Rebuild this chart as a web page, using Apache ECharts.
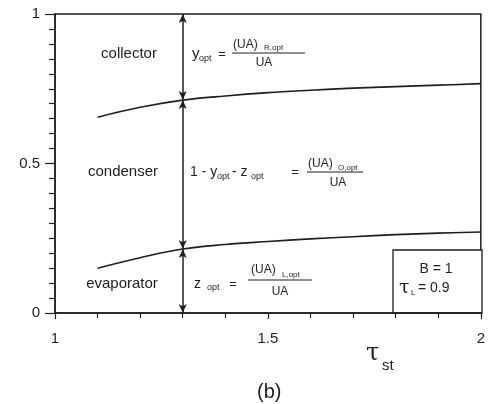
<!DOCTYPE html>
<html>
<head>
<meta charset="utf-8">
<script src="https://cdn.jsdelivr.net/npm/echarts@6/dist/echarts.min.js"></script>
<style>html,body{margin:0;padding:0;background:#fff}#c{width:488px;height:404px}</style>
</head>
<body>
<div id="c"></div>
<script>
// ---- data ----
var tauSt = [1.1, 1.2, 1.3, 1.4, 1.5, 1.6, 1.7, 1.8, 1.9, 2.0];
var upperCurve = [0.655, 0.688, 0.712, 0.726, 0.737, 0.745, 0.752, 0.757, 0.762, 0.767];
var lowerCurve = [0.150, 0.185, 0.214, 0.229, 0.239, 0.248, 0.255, 0.262, 0.267, 0.271];
var markerX = 1.3;
var markerIndex = 2;
var xTicks = [1, 1.5, 2];
var yTicks = [0, 0.5, 1];
var regionLabels = ['collector', 'condenser', 'evaporator'];

var FONT = '"Liberation Sans", Arial, sans-serif';
var GREEK = '"DejaVu Serif", "Liberation Serif", serif';
var INK = '#1e1e1e';

function pairs(xs, ys) { return xs.map(function (x, i) { return [x, ys[i]]; }); }

function txt(x, y, s, size, align, family) {
  return { type: 'text', silent: true, style: { text: s, x: x, y: y,
    font: size + 'px ' + (family || FONT), fill: INK,
    textAlign: align || 'left', textVerticalAlign: 'middle' } };
}
function hline(x1, x2, y, w) {
  return { type: 'line', silent: true, shape: { x1: x1, y1: y, x2: x2, y2: y },
    style: { stroke: INK, lineWidth: w || 1 } };
}

var chart = echarts.init(document.getElementById('c'), null, { renderer: 'canvas' });

var graphics = [
  // region labels
  txt(129, 54, regionLabels[0], 15, 'center'),
  txt(123, 172, regionLabels[1], 15, 'center'),
  txt(122, 284, regionLabels[2], 15, 'center'),
  // equation 1
  txt(192, 54, 'y', 15),
  txt(199, 59, 'opt', 9),
  txt(222, 54, '=', 13, 'center'),
  txt(233, 45, '(UA)', 12),
  txt(264, 48, 'R,opt', 8),
  hline(232, 305, 53, 1),
  txt(264, 63, 'UA', 12, 'center'),
  // equation 2
  txt(190, 172, '1 - y', 14),
  txt(217, 177, 'opt', 9),
  txt(232, 172, '- z', 14),
  txt(251, 177, 'opt', 9),
  txt(295, 172, '=', 13, 'center'),
  txt(308, 164, '(UA)', 12),
  txt(338, 168, 'O,opt', 8),
  hline(307, 363, 172, 1),
  txt(338, 183, 'UA', 12, 'center'),
  // equation 3
  txt(194, 284, 'z', 14),
  txt(207, 288, 'opt', 9),
  txt(233, 284, '=', 13, 'center'),
  txt(251, 270, '(UA)', 12),
  txt(282, 275, 'L,opt', 8),
  hline(248, 312, 280, 1),
  txt(280, 292, 'UA', 12, 'center'),
  // parameter box
  { type: 'rect', silent: true, shape: { x: 393, y: 250, width: 89, height: 63 },
    style: { fill: '#fff', stroke: INK, lineWidth: 1.3 } },
  txt(436, 269, 'B = 1', 14, 'center'),
  txt(399, 288, '\u03C4', 19, 'left', GREEK),
  txt(411, 293, 'L', 8),
  txt(418, 288, '= 0.9', 14),
  // axis title and caption
  txt(366, 354, '\u03C4', 24, 'left', GREEK),
  txt(382, 366, 'st', 15),
  txt(257, 392, '(b)', 20)
];

chart.setOption({
  animation: false,
  backgroundColor: '#fff',
  grid: { left: 55, right: 6, top: 14, bottom: 91, show: true, borderColor: INK, borderWidth: 1.5 },
  xAxis: {
    type: 'value', min: xTicks[0], max: xTicks[xTicks.length - 1], interval: 0.5,
    axisLine: { show: true, onZero: false, lineStyle: { color: INK, width: 1.5 } },
    axisTick: { show: true, length: 6, lineStyle: { color: INK, width: 1.2 } },
    minorTick: { show: true, splitNumber: 5, length: 5, lineStyle: { color: INK, width: 1.2 } },
    splitLine: { show: false },
    axisLabel: { color: INK, fontSize: 15, fontFamily: FONT, margin: 18,
      formatter: function (v) { return String(v); } }
  },
  yAxis: {
    type: 'value', min: yTicks[0], max: yTicks[yTicks.length - 1], interval: 0.5,
    axisLine: { show: true, onZero: false, lineStyle: { color: INK, width: 1.5 } },
    axisTick: { show: true, length: 10, lineStyle: { color: INK, width: 1.2 } },
    minorTick: { show: true, splitNumber: 10, length: 6, lineStyle: { color: INK, width: 1.2 } },
    splitLine: { show: false },
    axisLabel: { color: INK, fontSize: 15, fontFamily: FONT, margin: 15,
      formatter: function (v) { return String(v); } }
  },
  series: [
    { type: 'line', data: pairs(tauSt, upperCurve), smooth: 0.4, symbol: 'none', silent: true,
      lineStyle: { color: INK, width: 1.6 } },
    { type: 'line', data: pairs(tauSt, lowerCurve), smooth: 0.4, symbol: 'none', silent: true,
      lineStyle: { color: INK, width: 1.6 } },
    { type: 'line', data: [], silent: true,
      markLine: {
        silent: true, symbol: ['arrow', 'arrow'], symbolSize: [6, 9],
        label: { show: false },
        lineStyle: { color: INK, width: 1.5, type: 'solid' },
        emphasis: { disabled: true },
        data: [
          [{ coord: [markerX, yTicks[0]] }, { coord: [markerX, lowerCurve[markerIndex]] }],
          [{ coord: [markerX, lowerCurve[markerIndex]] }, { coord: [markerX, upperCurve[markerIndex]] }],
          [{ coord: [markerX, upperCurve[markerIndex]] }, { coord: [markerX, yTicks[2]] }]
        ]
      }
    }
  ],
  graphic: graphics
});
</script>
</body>
</html>
